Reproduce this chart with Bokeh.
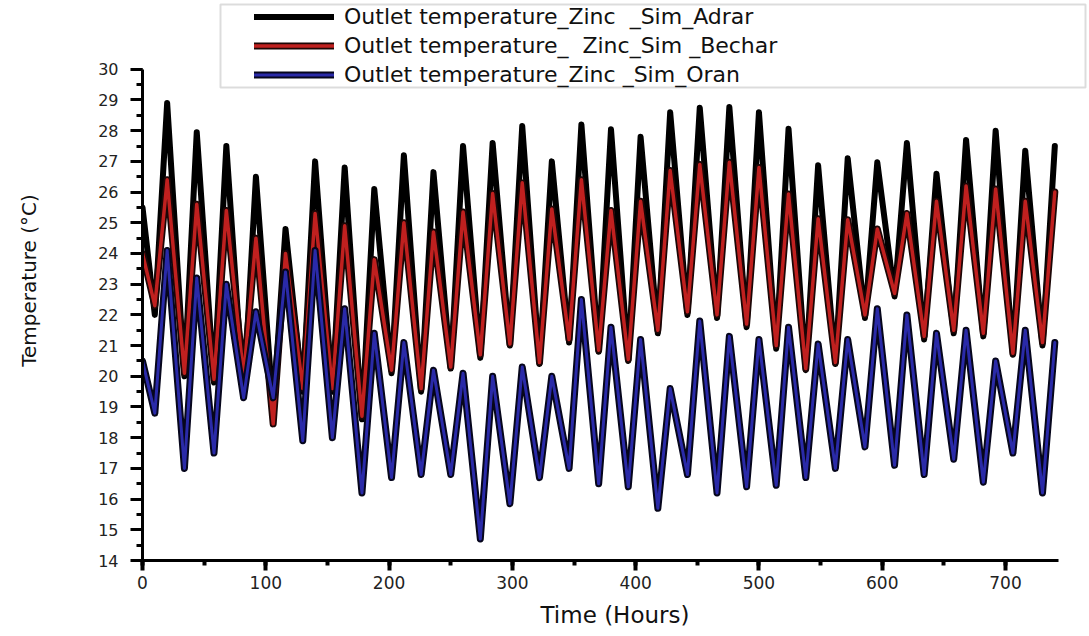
from bokeh.plotting import figure
from bokeh.models import Range1d, SingleIntervalTicker, Legend, LegendItem, BoxAnnotation
from bokeh.embed import file_html
from bokeh.resources import INLINE

hours = [0, 10, 20, 34, 44, 58, 68, 82, 92, 106, 116, 130, 140, 154, 164, 178, 188,
         202, 212, 226, 236, 250, 260, 274, 284, 298, 308, 322, 332, 346, 356, 370,
         380, 394, 404, 418, 428, 442, 452, 466, 476, 490, 500, 514, 524, 538, 548,
         562, 572, 586, 596, 610, 620, 634, 644, 658, 668, 682, 692, 706, 716, 730, 740]

adrar = [25.5, 22.0, 28.9, 20.0, 27.95, 19.8, 27.5, 19.3, 26.5, 18.9, 24.8, 19.5, 27.0,
         19.5, 26.8, 18.6, 26.1, 20.1, 27.2, 19.5, 26.65, 20.25, 27.5, 20.6, 27.6, 21.0,
         28.15, 20.4, 27.0, 21.1, 28.2, 20.8, 28.05, 20.5, 27.8, 21.4, 28.6, 22.0, 28.75,
         21.9, 28.77, 21.6, 28.6, 20.9, 28.06, 20.2, 26.87, 20.4, 27.1, 21.9, 26.97, 22.6,
         27.6, 21.2, 26.6, 21.4, 27.7, 21.3, 28.0, 20.7, 27.35, 21.0, 27.5]

bechar = [24.0, 22.3, 26.4, 20.1, 25.6, 19.9, 25.4, 20.0, 24.5, 18.45, 24.0, 19.6, 25.3,
          19.6, 24.9, 18.7, 23.8, 20.2, 25.0, 19.6, 24.7, 20.3, 25.35, 20.7, 25.95, 21.05,
          26.3, 20.45, 25.45, 21.2, 26.4, 20.85, 25.4, 20.55, 25.7, 21.5, 26.7, 22.1, 26.9,
          22.0, 26.97, 21.7, 26.8, 21.0, 25.94, 20.25, 25.13, 20.45, 25.1, 22.0, 24.8, 22.7,
          25.3, 21.3, 25.7, 21.5, 26.2, 21.4, 26.1, 20.75, 25.7, 21.1, 26.0]

oran = [20.5, 18.8, 24.1, 17.0, 23.2, 17.5, 23.0, 19.3, 22.1, 19.3, 23.4, 17.9, 24.1,
        18.0, 22.2, 16.2, 21.4, 16.7, 21.1, 16.8, 20.2, 16.8, 20.1, 14.7, 20.0, 15.85,
        20.3, 16.7, 20.0, 17.0, 22.5, 16.5, 21.6, 16.4, 21.2, 15.7, 19.6, 16.8, 21.8,
        16.2, 21.3, 16.4, 21.2, 16.45, 21.6, 16.7, 21.05, 17.0, 21.2, 17.7, 22.2, 17.1,
        22.0, 16.8, 21.4, 17.3, 21.5, 16.55, 20.5, 17.5, 21.5, 16.2, 21.1]

labels = ["Outlet temperature_Zinc  _Sim_Adrar",
          "Outlet temperature_  Zinc_Sim _Bechar",
          "Outlet temperature_Zinc _Sim_Oran"]

x_axis_span = (0, 743)
y_axis_span = (14, 30)

FONT = "DejaVu Sans"

# frame covers the legend area too; axes are bounded to the data spans
p = figure(frame_width=945, frame_height=560,
           min_border_left=142, min_border_top=0, min_border_right=2, min_border_bottom=76,
           x_range=Range1d(0, 766.5), y_range=Range1d(14, 32.24),
           output_backend="svg", toolbar_location=None)
p.xgrid.visible = False
p.ygrid.visible = False
p.outline_line_color = None
p.background_fill_color = "white"
p.border_fill_color = "white"

r_a = p.line(hours, adrar, line_color="#000000", line_width=6, line_join="round", line_cap="round")
r_b_out = p.line(hours, bechar, line_color="#1c0606", line_width=7, line_join="round", line_cap="round")
r_b = p.line(hours, bechar, line_color="#c0201f", line_width=3.5, line_join="round", line_cap="round")
r_o_out = p.line(hours, oran, line_color="#06061c", line_width=7, line_join="round", line_cap="round")
r_o = p.line(hours, oran, line_color="#2a2aa8", line_width=3, line_join="round", line_cap="round")

# axes
p.xaxis.ticker = SingleIntervalTicker(interval=100, num_minor_ticks=2)
p.yaxis.ticker = SingleIntervalTicker(interval=1, num_minor_ticks=2)
p.xaxis.bounds = x_axis_span
p.yaxis.bounds = y_axis_span
for ax in (p.xaxis, p.yaxis):
    ax.axis_line_width = 3
    ax.axis_line_color = "black"
    ax.major_tick_line_color = "black"
    ax.minor_tick_line_color = "black"
    ax.major_tick_in = 0
    ax.minor_tick_in = 0
    ax.major_label_text_font = FONT
    ax.major_label_text_color = "#222222"
    ax.axis_label_text_font = FONT
    ax.axis_label_text_font_style = "normal"
    ax.axis_label_text_color = "#111111"

p.xaxis.major_tick_out = 10
p.xaxis.minor_tick_out = 5
p.xaxis.major_tick_line_width = 4
p.xaxis.minor_tick_line_width = 4
p.xaxis.major_label_text_font_size = "17px"
p.xaxis.major_label_standoff = 5
p.xaxis.axis_label = "Time (Hours)"
p.xaxis.axis_label_text_font_size = "23px"
p.xaxis.axis_label_standoff = 10

p.yaxis.major_tick_out = 12
p.yaxis.minor_tick_out = 6
p.yaxis.major_tick_line_width = 3
p.yaxis.minor_tick_line_width = 3
p.yaxis.major_label_text_font_size = "16px"
p.yaxis.major_label_standoff = 12
p.yaxis.axis_label = "Temperature (°C)"
p.yaxis.axis_label_text_font_size = "20px"
p.yaxis.axis_label_standoff = 54

box = BoxAnnotation(left=220, right=1085, top=4, bottom=87,
                    left_units="canvas", right_units="canvas",
                    top_units="canvas", bottom_units="canvas",
                    fill_color="white", fill_alpha=1.0,
                    line_color="#8a8a8a", line_width=2, editable=False)
p.add_layout(box)

legend = Legend(items=[LegendItem(label=labels[0], renderers=[r_a]),
                       LegendItem(label=labels[1], renderers=[r_b_out, r_b]),
                       LegendItem(label=labels[2], renderers=[r_o_out, r_o])],
                location=(112, 473), orientation="vertical",
                padding=6, margin=0, spacing=4,
                label_height=21, glyph_height=21, glyph_width=80, label_standoff=10,
                label_text_font=FONT, label_text_font_size="22px", label_text_color="#111111",
                border_line_color=None, background_fill_alpha=0)
p.add_layout(legend)

open("out.html", "w").write(file_html(p, INLINE))
